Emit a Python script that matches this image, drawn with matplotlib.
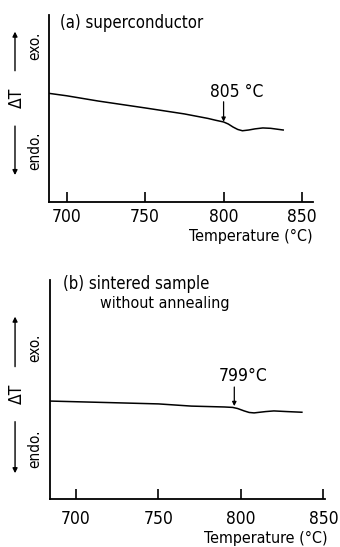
import matplotlib
matplotlib.use("Agg")
import matplotlib.pyplot as plt

plt.rcParams['font.family'] = ['DejaVu Sans']
plt.rcParams['font.stretch'] = 'condensed'

# Data (arbitrary ΔT units)
temp_a = [688.7, 700, 720, 750, 775, 790, 795, 800, 803, 806, 809, 812, 816, 820, 825, 830, 838]
dT_a = [58.1, 56.8, 54.0, 50.3, 47.1, 44.7, 43.7, 42.8, 41.7, 40.1, 38.8, 38.1, 38.5, 39.1, 39.6, 39.4, 38.5]
temp_b = [684.2, 720, 750, 770, 790, 795, 798, 802, 805, 808, 815, 820, 828, 837]
dT_b = [44.8, 44.1, 43.5, 42.5, 42.1, 41.9, 41.4, 40.3, 39.6, 39.4, 40.0, 40.3, 40.0, 39.7]
xticks = [700, 750, 800, 850]
peak_a = 800
peak_a_label = "805 °C"
peak_b = 796
peak_b_label = "799°C"

fig = plt.figure(figsize=(3.4, 5.47), dpi=100)
ax_a = fig.add_axes([0.1441, 0.6307, 0.7765, 0.3419])
ax_b = fig.add_axes([0.1470, 0.0872, 0.8088, 0.4009])


def style(ax, xlim, pad):
    ax.set_xlim(*xlim)
    ax.set_ylim(0, 100)
    for s in ['top', 'right']:
        ax.spines[s].set_visible(False)
    for s in ['left', 'bottom']:
        ax.spines[s].set_linewidth(1.3)
    ax.set_yticks([])
    ax.set_xticks(xticks)
    ax.tick_params(axis='x', direction='in', length=7.2, width=1.2,
                   labelsize=12.5, pad=pad)


def arrow(ax, x, y0, y1, tr, ms=7, lw=1.0):
    ax.annotate('', xy=(x, y1), xytext=(x, y0),
                xycoords=tr, textcoords=tr, annotation_clip=False,
                arrowprops=dict(arrowstyle='-|>', lw=lw, color='black',
                                mutation_scale=ms, shrinkA=0, shrinkB=0))


def ylabels(ax, x_arrow, up, dt, exo, endo, down, x_txt):
    tr = ax.transAxes
    arrow(ax, x_arrow, up[0], up[1], tr)
    arrow(ax, x_arrow, down[0], down[1], tr)
    ax.text(x_arrow + 0.008, dt, 'ΔT', transform=tr, rotation=90,
            ha='center', va='center', fontsize=12.5)
    ax.text(x_txt, exo, 'exo.', transform=tr, rotation=90,
            ha='center', va='center', fontsize=11)
    ax.text(x_txt, endo, 'endo.', transform=tr, rotation=90,
            ha='center', va='center', fontsize=11)


# Panel (a)
style(ax_a, (688.7, 857), 4.3)
ax_a.plot(temp_a, dT_a, color='black', lw=1.1)
arrow(ax_a, peak_a, 53.6, 42.9, ax_a.transData, ms=6, lw=0.9)
ax_a.text(808.5, 59.0, peak_a_label, ha='center', va='center', fontsize=12.5)
ax_a.text(0.042, 0.955, '(a) superconductor', transform=ax_a.transAxes,
          ha='left', va='center', fontsize=12)
ax_a.text(1.0, -0.187, 'Temperature (°C)', transform=ax_a.transAxes,
          ha='right', va='center', fontsize=11.5)
ylabels(ax_a, -0.1288, (0.702, 0.911), 0.559, 0.834, 0.273, (0.406, 0.144), -0.053)

# Panel (b)
style(ax_b, (684.2, 851), 7.5)
ax_b.plot(temp_b, dT_b, color='black', lw=1.1)
arrow(ax_b, peak_b, 51.2, 42.5, ax_b.transData, ms=6, lw=0.9)
ax_b.text(801.3, 56.0, peak_b_label, ha='center', va='center', fontsize=12.5)
ax_b.text(0.047, 0.982, '(b) sintered sample', transform=ax_b.transAxes,
          ha='left', va='center', fontsize=12)
ax_b.text(0.182, 0.895, 'without annealing', transform=ax_b.transAxes,
          ha='left', va='center', fontsize=11.5)
ax_b.text(1.011, -0.178, 'Temperature (°C)', transform=ax_b.transAxes,
          ha='right', va='center', fontsize=11.5)
ylabels(ax_b, -0.127, (0.605, 0.833), 0.480, 0.690, 0.229, (0.354, 0.119), -0.0545)

fig.savefig('out.png', dpi=100)
